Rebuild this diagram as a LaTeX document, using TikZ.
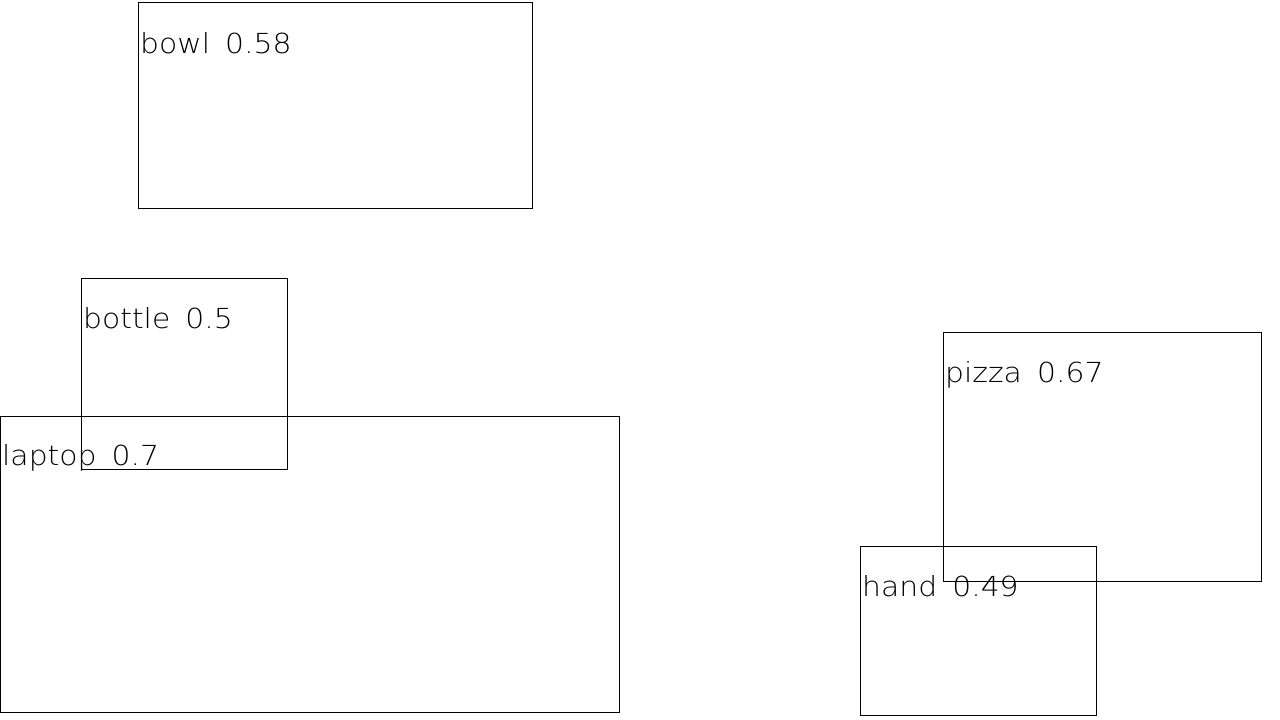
\documentclass[tikz,border=0pt]{standalone}
\usepackage{fontspec}
\newfontfamily\lblfont{DejaVu Sans ExtraLight}
\tikzset{
  bbox/.style={draw=black, line width=1pt, fill=none, inner sep=0pt, anchor=north west},
  lbl/.style={anchor=base west, inner sep=0pt, font=\lblfont\fontsize{27.6}{30}\selectfont}
}
\newcommand{\lbltext}[2]{\scalebox{1.08}[1]{#1\hspace{14pt}#2}}
\begin{document}
\begin{tikzpicture}[x=1pt,y=-1pt]
\useasboundingbox[fill=white] (0,0) rectangle (1280,720);
\node[bbox, minimum width=394pt, minimum height=206pt] (bowl) at (138,2) {};
\node[bbox, minimum width=206pt, minimum height=191pt] (bottle) at (81,278) {};
\node[bbox, minimum width=619pt, minimum height=296pt] (laptop) at (0,416) {};
\node[bbox, minimum width=318pt, minimum height=249pt] (pizza) at (943,332) {};
\node[bbox, minimum width=236pt, minimum height=169pt] (hand) at (860,546) {};
\node[lbl] (bowllbl) at (140,53) {\lbltext{bowl}{0.58}};
\node[lbl] (bottlelbl) at (83,328) {\lbltext{bottle}{0.5}};
\node[lbl] (laptoplbl) at (2,465) {\lbltext{laptop}{0.7}};
\node[lbl] (pizzalbl) at (945,382) {\lbltext{pizza}{0.67}};
\node[lbl] (handlbl) at (862,596) {\lbltext{hand}{0.49}};
\end{tikzpicture}
\end{document}
